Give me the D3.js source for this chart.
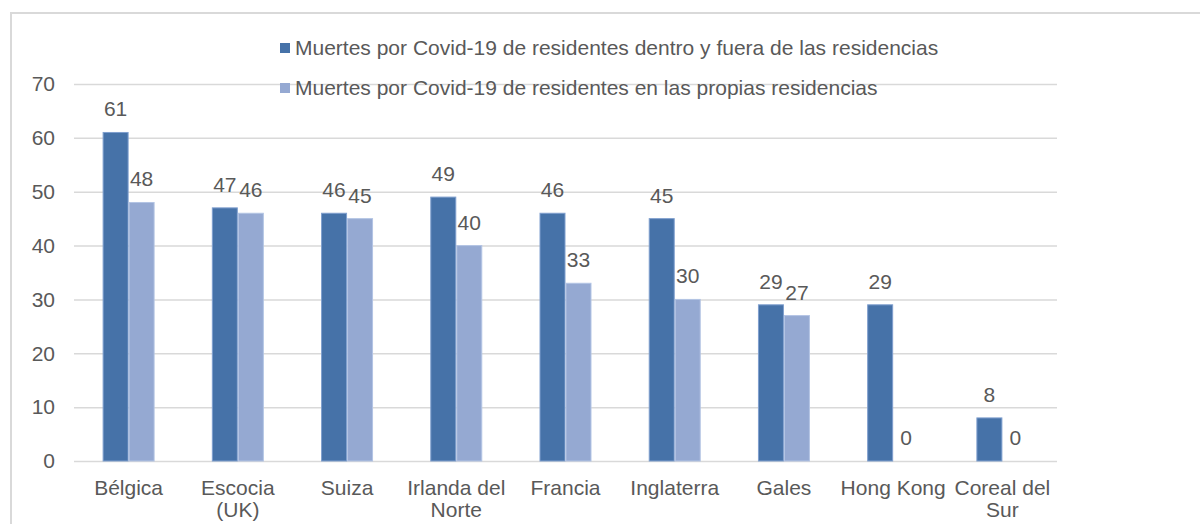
<!DOCTYPE html>
<html>
<head>
<meta charset="utf-8">
<script src="https://cdn.jsdelivr.net/npm/d3@7"></script>
<style>
  body { margin: 0; background: #fff; }
  text { font-family: "Liberation Sans", Arial, sans-serif; fill: #595959; }
</style>
</head>
<body>
<div id="chart"></div>
<script>
// datos del gráfico
const categories = ["Bélgica", "Escocia (UK)", "Suiza", "Irlanda del Norte", "Francia", "Inglaterra", "Gales", "Hong Kong", "Coreal del Sur"];
const seriesNames = [
  "Muertes por Covid-19 de residentes dentro y fuera de las residencias",
  "Muertes por Covid-19 de residentes en las propias residencias"
];
const totalDeaths = [61, 47, 46, 49, 46, 45, 29, 29, 8];
const inResidenceDeaths = [48, 46, 45, 40, 33, 30, 27, 0, 0];
const yTicks = [0, 10, 20, 30, 40, 50, 60, 70];

const colors = ["#4672A8", "#95A9D2"];
const strokes = ["#7f9fce", "#b3c4e4"];

const width = 1200, height = 524;
const plotLeft = 74, plotRight = 1057, plotTop = 84, plotBottom = 461;
const fontSize = 21;

const svg = d3.select("#chart")
  .append("svg")
  .attr("width", width)
  .attr("height", height);

// marco del gráfico
svg.append("path")
  .attr("d", `M11,${height} V13 H${width}`)
  .attr("fill", "none")
  .attr("stroke", "#d9d9d9")
  .attr("stroke-width", 2);

const y = d3.scaleLinear().domain([0, 70]).range([plotBottom, plotTop]);

const x0 = d3.scaleBand()
  .domain(categories)
  .range([plotLeft, plotRight])
  .paddingInner(0.524)
  .paddingOuter(0.262);

const x1 = d3.scaleBand()
  .domain([0, 1])
  .range([0, x0.bandwidth()]);

// lineas de cuadricula y etiquetas del eje Y
const yAxis = d3.axisLeft(y)
  .tickValues(yTicks)
  .tickSize(-(plotRight - plotLeft))
  .tickPadding(19);

const gy = svg.append("g")
  .attr("transform", `translate(${plotLeft},0)`)
  .call(yAxis);
gy.select(".domain").remove();
gy.selectAll(".tick line")
  .attr("stroke", "#d9d9d9")
  .attr("stroke-width", 1.5);
gy.selectAll(".tick text")
  .attr("font-size", fontSize)
  .attr("fill", "#595959")
  .style("font-family", "'Liberation Sans', Arial, sans-serif");

// barras
const rows = categories.map((c, i) => ({ cat: c, values: [totalDeaths[i], inResidenceDeaths[i]] }));

const groups = svg.selectAll(".grupo")
  .data(rows)
  .join("g")
  .attr("class", "grupo")
  .attr("transform", d => `translate(${x0(d.cat)},0)`);

groups.selectAll("rect")
  .data(d => d.values.map((v, k) => ({ k, v })))
  .join("rect")
  .attr("x", d => x1(d.k) + 0.5)
  .attr("width", x1.bandwidth() - 1)
  .attr("y", d => y(d.v))
  .attr("height", d => y(0) - y(d.v))
  .attr("fill", d => colors[d.k])
  .attr("stroke", d => d.v > 0 ? strokes[d.k] : "none")
  .attr("stroke-width", 1);

// etiquetas de datos
groups.selectAll(".lbl")
  .data(d => d.values.map((v, k) => ({ k, v })))
  .join("text")
  .attr("class", "lbl")
  .attr("x", d => x1(d.k) + x1.bandwidth() / 2)
  .attr("y", d => y(d.v) - 16)
  .attr("text-anchor", "middle")
  .attr("font-size", fontSize)
  .text(d => d.v);

// etiquetas del eje X (con salto de linea)
function wrap(str, maxW, fs) {
  const tmp = svg.append("text").attr("font-size", fs);
  const words = str.split(" ");
  const lines = [];
  let line = [];
  words.forEach(w => {
    line.push(w);
    tmp.text(line.join(" "));
    if (tmp.node().getComputedTextLength() > maxW && line.length > 1) {
      line.pop();
      lines.push(line.join(" "));
      line = [w];
    }
  });
  lines.push(line.join(" "));
  tmp.remove();
  return lines;
}

categories.forEach(c => {
  const lines = wrap(c, 106, fontSize);
  const cx = x0(c) + x0.bandwidth() / 2;
  const t = svg.append("text")
    .attr("text-anchor", "middle")
    .attr("font-size", fontSize)
    .attr("x", cx)
    .attr("y", 495);
  lines.forEach((l, i) => {
    t.append("tspan")
      .attr("x", cx)
      .attr("dy", i === 0 ? 0 : 22)
      .text(l);
  });
});

// leyenda
const legend = svg.selectAll(".leyenda")
  .data(seriesNames)
  .join("g")
  .attr("class", "leyenda")
  .attr("transform", (d, i) => `translate(280,${48 + i * 40})`);

legend.append("rect")
  .attr("x", 0)
  .attr("y", -5)
  .attr("width", 10)
  .attr("height", 10)
  .attr("fill", (d, i) => colors[i]);

legend.append("text")
  .attr("x", 15)
  .attr("y", 7)
  .attr("font-size", fontSize)
  .text(d => d);
</script>
</body>
</html>
